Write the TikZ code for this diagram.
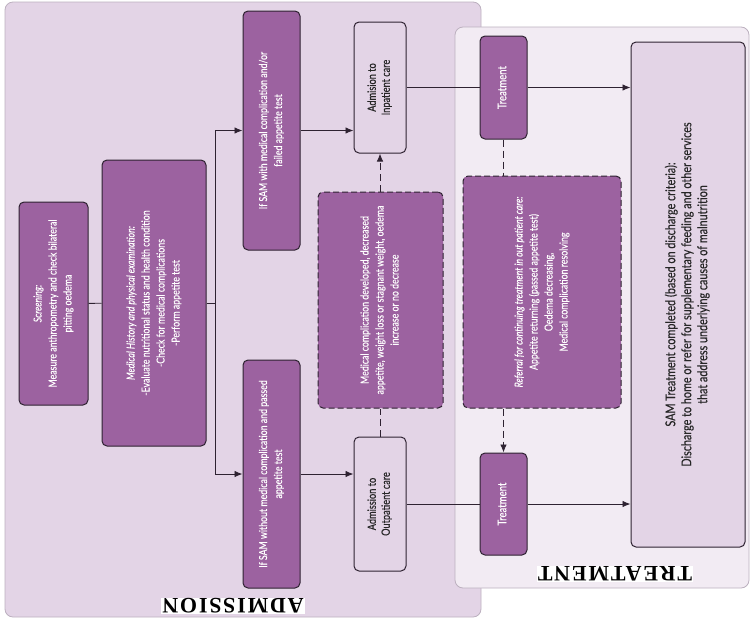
\documentclass[tikz,border=0pt]{standalone}
\usepackage{fontspec}
\usepackage{graphicx}
\usetikzlibrary{arrows.meta}
\newfontfamily\boxfont{Lato}[FakeStretch=0.8, FakeBold=0.25]
\newfontfamily\panelfont{Liberation Serif}[LetterSpace=8]
\definecolor{panelA}{HTML}{E3D4E6}
\definecolor{panelT}{HTML}{F2EBF3}
\definecolor{panelline}{HTML}{BCB0BF}
\definecolor{boxpurple}{HTML}{9C62A0}
\definecolor{boxline}{HTML}{2E2231}
\definecolor{boxlight}{HTML}{E3D4E6}
\newcommand{\vtext}[1]{\rotatebox{90}{\begin{tabular}{@{}c@{}}#1\end{tabular}}}
\tikzset{
  box/.style={draw=boxline, fill=boxpurple, text=white, line width=1pt, rounded corners=5pt,
    inner sep=0pt, font=\boxfont\fontsize{11}{15}\selectfont},
  lightbox/.style={box, fill=boxlight, text=black!85},
  dashbox/.style={box, dash pattern=on 6pt off 3pt},
  panel/.style={draw=panelline, line width=0.8pt, rounded corners=8pt},
  paneltitle/.style={rotate=180, fill=white, inner sep=1pt,
    font=\panelfont\bfseries\fontsize{22}{22}\selectfont},
  link/.style={draw=boxline, line width=0.9pt},
  dashlink/.style={link, dash pattern=on 7pt off 4pt},
}
\begin{document}
\begin{tikzpicture}[x=1pt, y=-1pt, >={Latex[length=8pt,width=6.5pt]}]
\useasboundingbox (0,0) rectangle (750,619);
\draw[panel, fill=panelA] (5,2) rectangle (481,617);
\draw[panel, fill=panelT] (455,27) rectangle (749,588);
\node[paneltitle] (admtitle) at (233,606) {ADMISSION};
\node[paneltitle] (trttitle) at (615,574) {TREATMENT};

\node[box, minimum width=69pt, minimum height=203pt] (screen) at (53.5,303.5)
  {\vtext{\textit{Screening:}\\ Measure anthropometry and check bilateral\\ pitting oedema}};
\node[box, minimum width=104pt, minimum height=286pt] (medhist) at (154,303)
  {\vtext{\textit{Medical History and physical examination:}\\
   -Evaluate nutritional status and health condition\\
   -Check for medical complications\\ -Perform appetite test}};
\node[box, minimum width=57pt, minimum height=239pt] (samfail) at (271.5,130.5)
  {\vtext{If SAM with medical complication and/or\\ failed appetite test}};
\node[box, minimum width=57pt, minimum height=228pt] (sampass) at (271.5,474)
  {\vtext{If SAM without medical complication and passed\\ appetite test}};
\node[lightbox, minimum width=52pt, minimum height=131pt,
  font=\boxfont\fontsize{11.5}{14}\selectfont] (inpatient) at (380,87.5)
  {\vtext{Admision to\\ Inpatient care}};
\node[lightbox, minimum width=52pt, minimum height=134pt,
  font=\boxfont\fontsize{11.5}{14}\selectfont] (outpatient) at (380,504)
  {\vtext{Admission to\\ Outpatient care}};
\node[dashbox, minimum width=125pt, minimum height=216pt] (deterior) at (380.5,300)
  {\vtext{Medical complication developed, decreased\\
   appetite, weight loss or stagnant weight, oedema\\ increase or no decrease}};
\node[box, minimum width=47pt, minimum height=103pt,
  font=\boxfont\fontsize{12}{14}\selectfont] (treatin) at (503.5,87.5)
  {\vtext{Treatment}};
\node[box, minimum width=47pt, minimum height=102pt,
  font=\boxfont\fontsize{12}{14}\selectfont] (treatout) at (503.5,504)
  {\vtext{Treatment}};
\node[dashbox, minimum width=158pt, minimum height=232pt] (referral) at (542,292)
  {\vtext{\textit{Referral for continuing treatment in out patient care:}\\
   Appetite returning (passed appetite test)\\ Oedema decreasing,\\
   Medical complication resolving}};
\node[lightbox, minimum width=114pt, minimum height=505pt,
  font=\boxfont\fontsize{13.5}{16}\selectfont] (discharge) at (688,294.5)
  {\vtext{SAM Treatment completed (based on discharge criteria):\\
   Discharge to home or refer for supplementary feeding and other services\\
   that address underlying causes of malnutrition}};

\coordinate (split) at (215,303);
\draw[link] (screen) -- (medhist);
\draw[link] (medhist) -- (split);
\draw[link,->] (split) |- (samfail);
\draw[link,->] (split) |- (sampass);
\draw[link,->] (samfail) -- (samfail -| inpatient.west);
\draw[link,->] (sampass) -- (sampass -| outpatient.west);
\draw[link] (inpatient) -- (treatin);
\draw[link,->] (treatin) -- (treatin -| discharge.west);
\draw[link] (outpatient) -- (treatout);
\draw[link,->] (treatout) -- (treatout -| discharge.west);
\draw[dashlink] (outpatient.north) -- (outpatient.north |- deterior.south);
\draw[dashlink,->] (deterior.north -| inpatient.south) -- (inpatient.south);
\draw[dashlink] (treatin.south) -- (treatin.south |- referral.north);
\draw[dashlink,->] (referral.south -| treatout.north) -- (treatout.north);
\end{tikzpicture}
\end{document}
